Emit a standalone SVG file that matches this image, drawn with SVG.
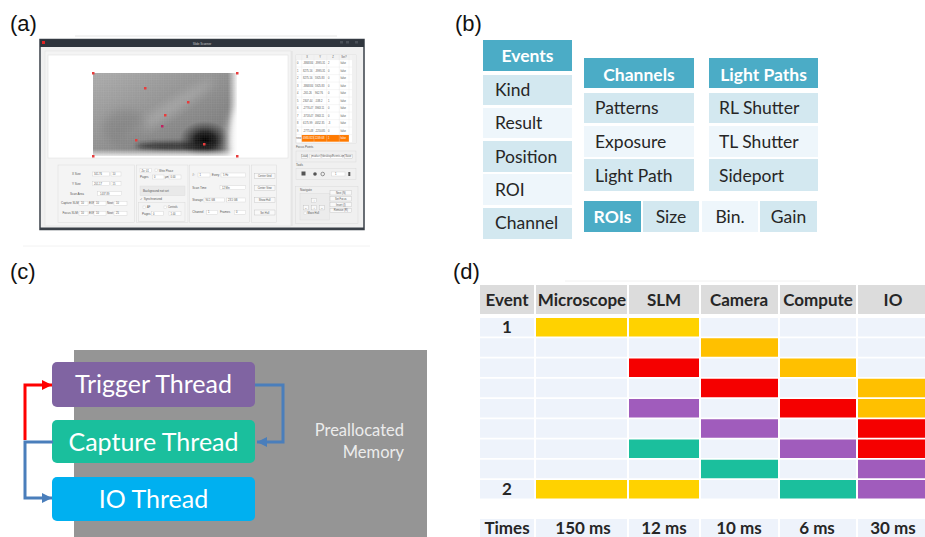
<svg xmlns="http://www.w3.org/2000/svg" width="925" height="537" viewBox="0 0 925 537">
<style>
.lbl{font-family:"Liberation Sans",Arial,sans-serif;font-size:22px;fill:#111}
.ui{font-family:"Liberation Sans",Arial,sans-serif;font-size:3px;fill:#555}
.uit{font-family:"Liberation Sans",Arial,sans-serif;font-size:2.6px;fill:#555}
.fld{fill:#fff;stroke:#cfcfcf;stroke-width:.4}
.grp{fill:none;stroke:#d9d9d9;stroke-width:.5}
.btn{fill:#f9f9f9;stroke:#bdbdbd;stroke-width:.4}
.pt{fill:#e83c3c}
.hd{fill:#4bacc6}
.dk{fill:#d3e8f0}
.lt{fill:#eef6fb}
.bt{font-family:Lato,"Open Sans",sans-serif;font-size:17.5px;fill:#262626}
.bh{font-family:Lato,"Open Sans",sans-serif;font-size:17.5px;font-weight:bold;fill:#fff}
.thr{font-family:Lato,"Open Sans",sans-serif;font-size:25px;fill:#fff}
.mem{font-family:Lato,"Open Sans",sans-serif;font-size:16.5px;fill:#ececec}
.cell{fill:#eef3fb}
.th{fill:#dcdcdc}
.tt{font-family:Lato,"Open Sans",sans-serif;font-size:17px;font-weight:bold;fill:#262626}
.y1{fill:#ffd200}.y2{fill:#ffc000}.rd{fill:#f50000}.pu{fill:#a05cbc}.te{fill:#1bbf9d}
.conn{fill:none;stroke-width:3}
</style>
<defs>
<linearGradient id="hmBase" x1="0" y1="0" x2="1" y2="1">
<stop offset="0" stop-color="#aaaaaa"/>
<stop offset="0.5" stop-color="#8e8e8e"/>
<stop offset="1" stop-color="#707070"/>
</linearGradient>
<radialGradient id="hmDark" cx="0.5" cy="0.5" r="0.5">
<stop offset="0" stop-color="#000" stop-opacity="1"/>
<stop offset="0.4" stop-color="#111" stop-opacity="0.85"/>
<stop offset="1" stop-color="#333" stop-opacity="0"/>
</radialGradient>
<linearGradient id="hmBot" x1="0" y1="0" x2="0" y2="1">
<stop offset="0" stop-color="#fff" stop-opacity="0"/>
<stop offset="1" stop-color="#fff" stop-opacity="0.8"/>
</linearGradient>
<linearGradient id="hmRight" x1="0" y1="0" x2="1" y2="0">
<stop offset="0" stop-color="#fff" stop-opacity="0"/>
<stop offset="1" stop-color="#fff" stop-opacity="0.9"/>
</linearGradient>
<filter id="blur4" x="-50%" y="-50%" width="200%" height="200%"><feGaussianBlur stdDeviation="5"/></filter>
<filter id="blur2" x="-50%" y="-50%" width="200%" height="200%"><feGaussianBlur stdDeviation="2"/></filter>
<clipPath id="hmClip"><rect x="93" y="73" width="144" height="83"/></clipPath>
<pattern id="grid" width="2.4" height="2.4" patternUnits="userSpaceOnUse">
<path d="M0 0H2.4M0 0V2.4" stroke="#fff" stroke-width=".4" fill="none"/>
</pattern>
<marker id="arR" markerWidth="10" markerHeight="10" refX="10" refY="5" orient="auto" markerUnits="userSpaceOnUse"><path d="M0 0L10 5L0 10z" fill="#ff0000"/></marker>
<marker id="arB" markerWidth="10" markerHeight="10" refX="10" refY="5" orient="auto" markerUnits="userSpaceOnUse"><path d="M0 0L10 5L0 10z" fill="#4a7ebb"/></marker>
</defs>
<rect width="925" height="537" fill="#fff"/>

<!-- panel labels -->
<text class="lbl" x="10" y="31">(a)</text>
<text class="lbl" x="455" y="31">(b)</text>
<text class="lbl" x="10" y="279">(c)</text>
<text class="lbl" x="453" y="279">(d)</text>

<!-- (a) screenshot -->
<g id="screenshot">
<line x1="75" y1="36" x2="337" y2="36" stroke="#e6e6e6" stroke-width="1"/>
<line x1="23" y1="246" x2="370" y2="246" stroke="#f2f2f2" stroke-width="1"/>
<rect x="40" y="39.5" width="324" height="190" fill="#f0f0f0" stroke="#3a4048" stroke-width="1.5"/>
<rect x="40" y="39.5" width="324" height="7.5" fill="#2f353d"/>
<rect x="42" y="41" width="3" height="3" fill="#e02424"/>
<text class="ui" x="202" y="44.6" text-anchor="middle" style="fill:#c8c8c8">Slide Scanner</text>
<rect x="340" y="41" width="3" height="2.5" fill="#4a5058"/>
<rect x="346" y="41" width="3" height="2.5" fill="#4a5058"/>
<rect x="355" y="41" width="3" height="2.5" fill="#4a5058"/>
<rect x="40" y="227.5" width="324" height="2" fill="#3a4048"/>
<rect x="45" y="51" width="246" height="175" fill="#f4f4f4" stroke="#dedede" stroke-width=".5"/>
<line x1="292" y1="51" x2="292" y2="226" stroke="#d6d6d6" stroke-width=".6"/>
<rect x="48" y="55" width="240" height="103" fill="#fff" stroke="#dcdcdc" stroke-width=".5"/>
<!-- heatmap -->
<g clip-path="url(#hmClip)">
<rect x="93" y="73" width="144" height="83" fill="url(#hmBase)"/>
<ellipse cx="168" cy="110" rx="55" ry="6" fill="#b8b8b8" opacity=".5" filter="url(#blur4)" transform="rotate(-33 168 110)"/>
<ellipse cx="125" cy="128" rx="22" ry="18" fill="#7a7a7a" opacity=".5" filter="url(#blur4)"/>
<ellipse cx="205" cy="140" rx="26" ry="19" fill="url(#hmDark)"/>
<ellipse cx="176" cy="146" rx="40" ry="4" fill="#1a1a1a" opacity=".7" filter="url(#blur2)"/>
<ellipse cx="242" cy="142" rx="14" ry="34" fill="#fff" opacity=".9" filter="url(#blur4)"/>
<rect x="93" y="149" width="144" height="7" fill="url(#hmBot)"/>
<rect x="228" y="73" width="9" height="83" fill="url(#hmRight)"/>
<rect x="93" y="73" width="144" height="83" fill="url(#grid)" opacity=".18"/>
</g>
<rect x="92" y="72" width="2.5" height="2.5" class="pt"/>
<rect x="236" y="72" width="2.5" height="2.5" class="pt"/>
<rect x="92" y="155" width="2.5" height="2.5" class="pt"/>
<rect x="236" y="155" width="2.5" height="2.5" class="pt"/>
<rect x="144" y="87" width="2.5" height="2.5" class="pt"/>
<rect x="187" y="101" width="2.5" height="2.5" class="pt"/>
<rect x="164" y="114" width="2.5" height="2.5" class="pt"/>
<rect x="161" y="125" width="2.5" height="2.5" fill="#c02060"/>
<rect x="135" y="139" width="2.5" height="2.5" class="pt"/>
<rect x="203" y="143" width="2.5" height="2.5" class="pt"/>

<!-- table -->
<rect x="296" y="55" width="60" height="88" fill="#fff" stroke="#cfcfcf" stroke-width=".5"/>
<rect x="296" y="55" width="56" height="4.5" fill="#f2f2f2"/>
<rect x="352" y="55" width="4" height="88" fill="#f0f0f0"/>
<rect x="301.7" y="135" width="47.3" height="6.7" fill="#ff7a00"/>
<g stroke="#e2e2e2" stroke-width=".3">
<line x1="301.7" y1="55" x2="301.7" y2="143"/><line x1="314" y1="55" x2="314" y2="143"/>
<line x1="326.7" y1="55" x2="326.7" y2="143"/><line x1="339.3" y1="55" x2="339.3" y2="143"/>
<line x1="349" y1="55" x2="349" y2="143"/>
<line x1="296" y1="59.6" x2="352" y2="59.6"/><line x1="296" y1="67.1" x2="352" y2="67.1"/>
<line x1="296" y1="74.6" x2="352" y2="74.6"/><line x1="296" y1="82.1" x2="352" y2="82.1"/>
<line x1="296" y1="89.6" x2="352" y2="89.6"/><line x1="296" y1="97.1" x2="352" y2="97.1"/>
<line x1="296" y1="104.6" x2="352" y2="104.6"/><line x1="296" y1="112.1" x2="352" y2="112.1"/>
<line x1="296" y1="119.6" x2="352" y2="119.6"/><line x1="296" y1="127.1" x2="352" y2="127.1"/>
<line x1="296" y1="134.6" x2="352" y2="134.6"/>
</g>
<g class="uit">
<text x="307" y="58.3" text-anchor="middle">X</text><text x="320" y="58.3" text-anchor="middle">Y</text>
<text x="333" y="58.3" text-anchor="middle">Z</text><text x="344" y="58.3" text-anchor="middle">Set?</text>
<text x="297" y="64.3">0</text><text x="303" y="64.3">-3868.84</text><text x="315" y="64.3">-3995.31</text><text x="328" y="64.3">2</text><text x="340.5" y="64.3">false</text>
<text x="297" y="71.8">1</text><text x="303" y="71.8">8275.16</text><text x="315" y="71.8">-3995.31</text><text x="328" y="71.8">0</text><text x="340.5" y="71.8">false</text>
<text x="297" y="79.3">2</text><text x="303" y="79.3">8275.16</text><text x="315" y="79.3">5925.83</text><text x="328" y="79.3">0</text><text x="340.5" y="79.3">false</text>
<text x="297" y="86.8">3</text><text x="303" y="86.8">-3868.84</text><text x="315" y="86.8">5925.83</text><text x="328" y="86.8">0</text><text x="340.5" y="86.8">false</text>
<text x="297" y="94.3">4</text><text x="303" y="94.3">-265.26</text><text x="315" y="94.3">962.76</text><text x="328" y="94.3">0</text><text x="340.5" y="94.3">false</text>
<text x="297" y="101.8">5</text><text x="303" y="101.8">2307.44</text><text x="315" y="101.8">-538.2</text><text x="328" y="101.8">1</text><text x="340.5" y="101.8">false</text>
<text x="297" y="109.3">6</text><text x="303" y="109.3">-2776.47</text><text x="315" y="109.3">3963.11</text><text x="328" y="109.3">0</text><text x="340.5" y="109.3">false</text>
<text x="297" y="116.8">7</text><text x="303" y="116.8">-3718.47</text><text x="315" y="116.8">3963.11</text><text x="328" y="116.8">0</text><text x="340.5" y="116.8">false</text>
<text x="297" y="124.3">8</text><text x="303" y="124.3">6175.99</text><text x="315" y="124.3">4652.35</text><text x="328" y="124.3">-3</text><text x="340.5" y="124.3">false</text>
<text x="297" y="131.8">9</text><text x="303" y="131.8">-2775.48</text><text x="315" y="131.8">-2250.85</text><text x="328" y="131.8">0</text><text x="340.5" y="131.8">false</text>
<text x="296.3" y="139.3">new</text><text x="303" y="139.3" style="fill:#fff">4983.823</text><text x="315" y="139.3" style="fill:#fff">2249.68</text><text x="328" y="139.3" style="fill:#fff">1</text><text x="340.5" y="139.3" style="fill:#fff">false</text>
</g>
<!-- focus points / tools / navigate -->
<text class="ui" x="296" y="148">Focus Points</text>
<rect x="296" y="151" width="60" height="11" class="grp"/>
<rect x="301.7" y="154.5" width="5.6" height="4" class="btn"/><text class="uit" x="304.5" y="157.4" text-anchor="middle">Load</text>
<rect x="309.3" y="154.5" width="33.4" height="4" class="fld"/><text class="uit" x="311" y="157.4">jmsdscr@desktop/Events.xml</text>
<rect x="344.3" y="154.5" width="8" height="4" class="btn"/><text class="uit" x="348.3" y="157.4" text-anchor="middle">Save</text>
<text class="ui" x="296" y="166">Tools</text>
<rect x="296" y="168.3" width="60" height="11" class="grp"/>
<rect x="301.5" y="171.5" width="4" height="4" fill="#555"/>
<circle cx="315" cy="174" r="1.8" fill="#555"/>
<circle cx="322.7" cy="174" r="1.8" fill="none" stroke="#555" stroke-width=".6"/>
<rect x="331.7" y="172" width="13.3" height="4" class="fld"/><text class="uit" x="335" y="175">1</text>
<rect x="348.3" y="172" width="2" height="4" fill="#555"/>
<rect x="295.5" y="186.7" width="62.5" height="37" class="grp"/>
<text class="ui" x="300" y="191">Navigate</text>
<rect x="300" y="193.3" width="29.3" height="26.7" fill="#ececec" stroke="#d9d9d9" stroke-width=".4"/>
<rect x="311.7" y="198.3" width="5" height="4.4" class="btn"/><text class="uit" x="314.2" y="201.5" text-anchor="middle">↑</text>
<rect x="303.3" y="205.5" width="5" height="4.4" class="btn"/><text class="uit" x="305.8" y="208.7" text-anchor="middle">←</text>
<rect x="311.7" y="205.5" width="5" height="4.4" class="btn"/><text class="uit" x="314.2" y="208.7" text-anchor="middle">↓</text>
<rect x="319.3" y="205.5" width="5" height="4.4" class="btn"/><text class="uit" x="321.8" y="208.7" text-anchor="middle">→</text>
<rect x="304" y="212" width="2.4" height="2.4" class="fld"/><text class="uit" x="307.5" y="214.3">Move Hull</text>
<rect x="330" y="190.7" width="21.7" height="4.3" class="btn"/><text class="uit" x="340.8" y="193.8" text-anchor="middle">Next (N)</text>
<rect x="330" y="196.7" width="21.7" height="4.3" class="btn"/><text class="uit" x="340.8" y="199.8" text-anchor="middle">Set Focus</text>
<rect x="330" y="202.5" width="21.7" height="4.3" class="btn"/><text class="uit" x="340.8" y="205.6" text-anchor="middle">Insert (I)</text>
<rect x="330" y="208.3" width="21.7" height="4.3" class="btn"/><text class="uit" x="340.8" y="211.4" text-anchor="middle">Remove (R)</text>

<!-- bottom group 1 -->
<rect x="58" y="165" width="76.5" height="57.7" class="grp"/>
<text class="ui" x="72" y="175">X Size</text>
<rect x="92.3" y="172" width="17" height="4" class="fld"/><text class="uit" x="94" y="175">341.76</text>
<rect x="111" y="172" width="10" height="4" class="fld"/><text class="uit" x="112.5" y="175">10</text>
<text class="ui" x="72" y="184.7">Y Size</text>
<rect x="92.3" y="181.7" width="17" height="4" class="fld"/><text class="uit" x="94" y="184.7">201.17</text>
<rect x="111" y="181.7" width="10" height="4" class="fld"/><text class="uit" x="112.5" y="184.7">15</text>
<text class="ui" x="70" y="194.7">Scan Area</text>
<rect x="97.7" y="191.7" width="24" height="4" class="fld"/><text class="uit" x="100" y="194.7">1437.89</text>
<text class="ui" x="61" y="204.3">Capture  SLM:</text>
<rect x="79" y="201.3" width="9" height="4" class="fld"/><text class="uit" x="81" y="204.3">10</text>
<text class="ui" x="89" y="204.3">EXP:</text>
<rect x="94" y="201.3" width="12" height="4" class="fld"/><text class="uit" x="96" y="204.3">10</text>
<text class="ui" x="107" y="204.3">Next:</text>
<rect x="114" y="201.3" width="13" height="4" class="fld"/><text class="uit" x="116" y="204.3">10</text>
<text class="ui" x="62.5" y="214.3">Focus  SLM:</text>
<rect x="79" y="211.3" width="9" height="4" class="fld"/><text class="uit" x="81" y="214.3">10</text>
<text class="ui" x="89" y="214.3">EXP:</text>
<rect x="94" y="211.3" width="12" height="4" class="fld"/><text class="uit" x="96" y="214.3">10</text>
<text class="ui" x="107" y="214.3">Next:</text>
<rect x="114" y="211.3" width="13" height="4" class="fld"/><text class="uit" x="116" y="214.3">25</text>

<!-- group 2 -->
<rect x="136.7" y="165" width="51.3" height="57.7" class="grp"/>
<rect x="140" y="168.5" width="11.7" height="4" class="fld"/><text class="uit" x="141.5" y="171.5">Zo: 01</text>
<rect x="155" y="169" width="2.4" height="2.4" class="fld"/><text class="uit" x="159" y="171.5">Write Phase</text>
<text class="ui" x="140" y="178">Pages</text>
<rect x="152.7" y="175" width="11.3" height="4" class="fld"/><text class="uit" x="154" y="178">0</text>
<text class="uit" x="165" y="178">µm</text>
<rect x="169" y="175" width="12" height="4" class="fld"/><text class="uit" x="170.5" y="178">0.00</text>
<rect x="140" y="186" width="45" height="9.7" fill="#e9e9e9" stroke="#dcdcdc" stroke-width=".4"/>
<text class="ui" x="143" y="191.7">Background not set</text>
<text class="ui" x="140" y="200.3">✓ Synchronized</text>
<rect x="138.3" y="202.7" width="46.7" height="19" class="grp"/>
<rect x="143" y="206" width="2.4" height="2.4" class="fld"/><text class="uit" x="147" y="208.3">AF</text>
<rect x="164" y="206" width="2.4" height="2.4" class="fld"/><text class="uit" x="168" y="208.3">Controls</text>
<text class="ui" x="142" y="214.5">Pages</text>
<rect x="151.7" y="211.5" width="11.6" height="4" class="fld"/><text class="uit" x="153" y="214.5">0</text>
<rect x="169" y="211.5" width="12" height="4" class="fld"/><text class="uit" x="170.5" y="214.5">1.00</text>

<!-- group 3 -->
<rect x="189.5" y="165" width="59.8" height="57.7" class="grp"/>
<text class="ui" x="192.3" y="176">#:</text>
<rect x="198" y="173" width="12" height="4" class="fld"/><text class="uit" x="199.5" y="176">1</text>
<text class="ui" x="211.7" y="176">Every</text>
<rect x="221" y="173" width="24.7" height="4" class="fld"/><text class="uit" x="223" y="176">5 Hz</text>
<text class="ui" x="192.3" y="188.7">Scan Time</text>
<rect x="220" y="185.7" width="25.7" height="4" class="fld"/><text class="uit" x="222" y="188.7">12 Min</text>
<text class="ui" x="192.3" y="201">Storage</text>
<rect x="204" y="198" width="20.3" height="4" class="fld"/><text class="uit" x="205.5" y="201">94.1 GB</text>
<rect x="226.7" y="198" width="19" height="4" class="fld"/><text class="uit" x="228" y="201">23.5 GB</text>
<text class="ui" x="192.3" y="213.3">Channel</text>
<rect x="206.7" y="210.3" width="11" height="4" class="fld"/><text class="uit" x="208" y="213.3">1</text>
<text class="ui" x="220" y="213.3">Frames</text>
<rect x="234.3" y="210.3" width="11.4" height="4" class="fld"/><text class="uit" x="236" y="213.3">0</text>

<!-- group 4 -->
<rect x="251.3" y="165" width="25.4" height="57.7" class="grp"/>
<rect x="254.3" y="173.3" width="20.7" height="5" class="btn"/><text class="uit" x="264.7" y="176.8" text-anchor="middle">Center Grid</text>
<rect x="254.3" y="185.7" width="20.7" height="5" class="btn"/><text class="uit" x="264.7" y="189.2" text-anchor="middle">Center View</text>
<rect x="254.3" y="197.7" width="20.7" height="5" class="btn"/><text class="uit" x="264.7" y="201.2" text-anchor="middle">Show Hull</text>
<rect x="254.3" y="210" width="20.7" height="5" class="btn"/><text class="uit" x="264.7" y="213.5" text-anchor="middle">Set Hull</text>
</g>

<!-- (b) data structure tables -->
<g id="events">
<rect x="483" y="40" width="89" height="31" class="hd"/><text class="bh" x="527.5" y="62" text-anchor="middle">Events</text>
<rect x="483" y="75" width="89" height="30" class="dk"/><text class="bt" x="495" y="96">Kind</text>
<rect x="483" y="108" width="89" height="30" class="lt"/><text class="bt" x="495" y="129">Result</text>
<rect x="483" y="141" width="89" height="31" class="dk"/><text class="bt" x="495" y="162.5">Position</text>
<rect x="483" y="174" width="89" height="31" class="lt"/><text class="bt" x="495" y="196">ROI</text>
<rect x="483" y="208" width="89" height="31" class="dk"/><text class="bt" x="495" y="229">Channel</text>
</g>
<g id="channels">
<rect x="584" y="58" width="110" height="30" class="hd"/><text class="bh" x="639" y="81" text-anchor="middle">Channels</text>
<rect x="584" y="93" width="110" height="30" class="dk"/><text class="bt" x="595" y="114.3">Patterns</text>
<rect x="584" y="126" width="110" height="31" class="lt"/><text class="bt" x="595" y="147.7">Exposure</text>
<rect x="584" y="159" width="110" height="32" class="dk"/><text class="bt" x="595" y="181.7">Light Path</text>
</g>
<g id="lightpaths">
<rect x="709" y="58" width="109" height="30" class="hd"/><text class="bh" x="763.5" y="81" text-anchor="middle">Light Paths</text>
<rect x="709" y="93" width="109" height="30" class="dk"/><text class="bt" x="719" y="114.3">RL Shutter</text>
<rect x="709" y="126" width="109" height="31" class="lt"/><text class="bt" x="719" y="147.7">TL Shutter</text>
<rect x="709" y="159" width="109" height="32" class="dk"/><text class="bt" x="719" y="181.7">Sideport</text>
</g>
<g id="rois">
<rect x="584" y="201" width="57" height="31" class="hd"/><text class="bh" x="612.5" y="222.7" text-anchor="middle">ROIs</text>
<rect x="643" y="201" width="56" height="31" class="dk"/><text class="bt" x="671" y="222.7" text-anchor="middle">Size</text>
<rect x="702" y="201" width="56" height="31" class="lt"/><text class="bt" x="730" y="222.7" text-anchor="middle">Bin.</text>
<rect x="760" y="201" width="57" height="31" class="dk"/><text class="bt" x="788.5" y="222.7" text-anchor="middle">Gain</text>
</g>

<!-- (c) threads -->
<g id="memory">
<rect x="74" y="350" width="353" height="187" fill="#959595"/>
<text class="mem" x="404" y="436" text-anchor="end">Preallocated</text>
<text class="mem" x="404" y="458" text-anchor="end">Memory</text>
</g>
<g id="trigger"><rect x="52" y="362" width="203" height="45" rx="5" fill="#8064a2"/><text class="thr" x="153.5" y="393" text-anchor="middle">Trigger Thread</text></g>
<g id="capture"><rect x="52" y="420" width="203" height="43" rx="5" fill="#1abf9d"/><text class="thr" x="153.5" y="451" text-anchor="middle">Capture Thread</text></g>
<g id="io"><rect x="52" y="477" width="203" height="44" rx="5" fill="#00b0f0"/><text class="thr" x="153.5" y="508" text-anchor="middle">IO Thread</text></g>
<g id="connectors">
<path class="conn" d="M25 440V385H52" stroke="#ff0000" marker-end="url(#arR)"/>
<path class="conn" d="M255 385H283V442H257" stroke="#4a7ebb" marker-end="url(#arB)"/>
<path class="conn" d="M53 442H25V498H52" stroke="#4a7ebb" marker-end="url(#arB)"/>
</g>

<!-- (d) timing table -->
<g id="timing">
<line x1="565" y1="281" x2="820" y2="281" stroke="#f0f0f0" stroke-width="1"/>
<rect x="480" y="285" width="54" height="29" class="th"/><text class="tt" x="507" y="306" text-anchor="middle">Event</text>
<rect x="536" y="285" width="91" height="29" class="th"/><text class="tt" x="582" y="306" text-anchor="middle">Microscope</text>
<rect x="629" y="285" width="70" height="29" class="th"/><text class="tt" x="664" y="306" text-anchor="middle">SLM</text>
<rect x="701" y="285" width="77" height="29" class="th"/><text class="tt" x="739" y="306" text-anchor="middle">Camera</text>
<rect x="780" y="285" width="76" height="29" class="th"/><text class="tt" x="818" y="306" text-anchor="middle">Compute</text>
<rect x="858" y="285" width="67" height="29" class="th"/><text class="tt" x="893" y="306" text-anchor="middle">IO</text>
<!-- row 1 -->
<rect x="480" y="318" width="54" height="18.5" class="cell"/><rect x="536" y="318" width="91" height="18.5" class="y1"/><rect x="629" y="318" width="70" height="18.5" class="y1"/><rect x="701" y="318" width="77" height="18.5" class="cell"/><rect x="780" y="318" width="76" height="18.5" class="cell"/><rect x="858" y="318" width="67" height="18.5" class="cell"/>
<text class="tt" x="507" y="332.5" text-anchor="middle">1</text>
<!-- row 2 -->
<rect x="480" y="338.25" width="54" height="18.5" class="cell"/><rect x="536" y="338.25" width="91" height="18.5" class="cell"/><rect x="629" y="338.25" width="70" height="18.5" class="cell"/><rect x="701" y="338.25" width="77" height="18.5" class="y2"/><rect x="780" y="338.25" width="76" height="18.5" class="cell"/><rect x="858" y="338.25" width="67" height="18.5" class="cell"/>
<!-- row 3 -->
<rect x="480" y="358.5" width="54" height="18.5" class="cell"/><rect x="536" y="358.5" width="91" height="18.5" class="cell"/><rect x="629" y="358.5" width="70" height="18.5" class="rd"/><rect x="701" y="358.5" width="77" height="18.5" class="cell"/><rect x="780" y="358.5" width="76" height="18.5" class="y2"/><rect x="858" y="358.5" width="67" height="18.5" class="cell"/>
<!-- row 4 -->
<rect x="480" y="378.75" width="54" height="18.5" class="cell"/><rect x="536" y="378.75" width="91" height="18.5" class="cell"/><rect x="629" y="378.75" width="70" height="18.5" class="cell"/><rect x="701" y="378.75" width="77" height="18.5" class="rd"/><rect x="780" y="378.75" width="76" height="18.5" class="cell"/><rect x="858" y="378.75" width="67" height="18.5" class="y2"/>
<!-- row 5 -->
<rect x="480" y="399" width="54" height="18.5" class="cell"/><rect x="536" y="399" width="91" height="18.5" class="cell"/><rect x="629" y="399" width="70" height="18.5" class="pu"/><rect x="701" y="399" width="77" height="18.5" class="cell"/><rect x="780" y="399" width="76" height="18.5" class="rd"/><rect x="858" y="399" width="67" height="18.5" class="y2"/>
<!-- row 6 -->
<rect x="480" y="419.25" width="54" height="18.5" class="cell"/><rect x="536" y="419.25" width="91" height="18.5" class="cell"/><rect x="629" y="419.25" width="70" height="18.5" class="cell"/><rect x="701" y="419.25" width="77" height="18.5" class="pu"/><rect x="780" y="419.25" width="76" height="18.5" class="cell"/><rect x="858" y="419.25" width="67" height="18.5" class="rd"/>
<!-- row 7 -->
<rect x="480" y="439.5" width="54" height="18.5" class="cell"/><rect x="536" y="439.5" width="91" height="18.5" class="cell"/><rect x="629" y="439.5" width="70" height="18.5" class="te"/><rect x="701" y="439.5" width="77" height="18.5" class="cell"/><rect x="780" y="439.5" width="76" height="18.5" class="pu"/><rect x="858" y="439.5" width="67" height="18.5" class="rd"/>
<!-- row 8 -->
<rect x="480" y="459.75" width="54" height="18.5" class="cell"/><rect x="536" y="459.75" width="91" height="18.5" class="cell"/><rect x="629" y="459.75" width="70" height="18.5" class="cell"/><rect x="701" y="459.75" width="77" height="18.5" class="te"/><rect x="780" y="459.75" width="76" height="18.5" class="cell"/><rect x="858" y="459.75" width="67" height="18.5" class="pu"/>
<!-- row 9 -->
<rect x="480" y="480" width="54" height="18.5" class="cell"/><rect x="536" y="480" width="91" height="18.5" class="y1"/><rect x="629" y="480" width="70" height="18.5" class="y1"/><rect x="701" y="480" width="77" height="18.5" class="cell"/><rect x="780" y="480" width="76" height="18.5" class="te"/><rect x="858" y="480" width="67" height="18.5" class="pu"/>
<text class="tt" x="507" y="495" text-anchor="middle">2</text>
<!-- times -->
<rect x="480" y="519" width="54" height="18" class="cell"/><rect x="536" y="519" width="91" height="18" class="cell"/><rect x="629" y="519" width="70" height="18" class="cell"/><rect x="701" y="519" width="77" height="18" class="cell"/><rect x="780" y="519" width="76" height="18" class="cell"/><rect x="858" y="519" width="67" height="18" class="cell"/>
<text class="tt" x="507" y="534" text-anchor="middle">Times</text>
<text class="tt" x="583" y="534" text-anchor="middle">150 ms</text>
<text class="tt" x="664" y="534" text-anchor="middle">12 ms</text>
<text class="tt" x="739" y="534" text-anchor="middle">10 ms</text>
<text class="tt" x="817" y="534" text-anchor="middle">6 ms</text>
<text class="tt" x="893" y="534" text-anchor="middle">30 ms</text>
</g>
</svg>
